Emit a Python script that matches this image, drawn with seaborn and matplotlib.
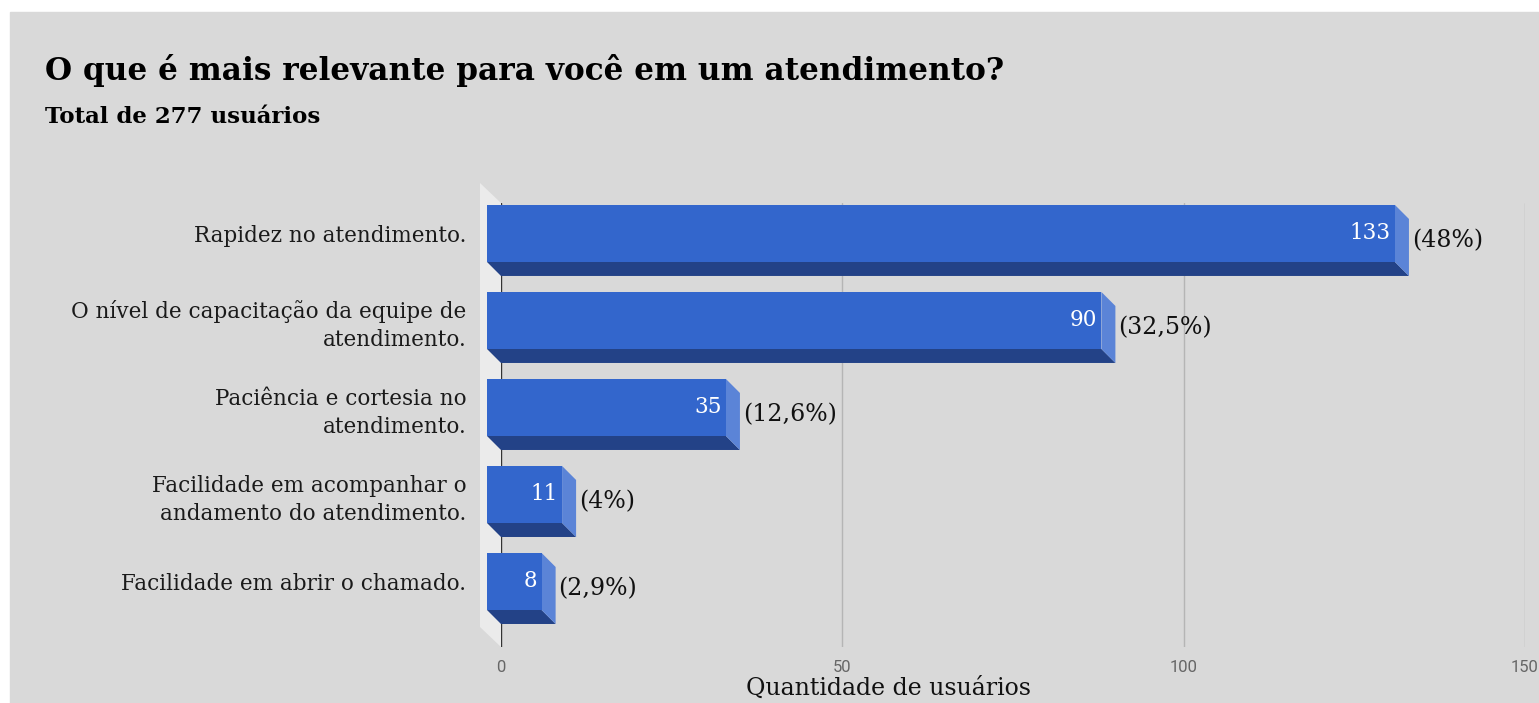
import pandas as pd
import seaborn as sns
import matplotlib.pyplot as plt
from matplotlib.patches import Polygon, Rectangle
from matplotlib.transforms import Affine2D

# Dados do gráfico
categorias = ["Rapidez no atendimento.",
              "O nível de capacitação da equipe de\natendimento.",
              "Paciência e cortesia no\natendimento.",
              "Facilidade em acompanhar o\nandamento do atendimento.",
              "Facilidade em abrir o chamado."]
usuarios = [133, 90, 35, 11, 8]
percentuais = ["(48%)", "(32,5%)", "(12,6%)", "(4%)", "(2,9%)"]
ticks_x = [0, 50, 100, 150]

data = pd.DataFrame({"categoria": categorias, "usuarios": usuarios})

sns.set_style("white")
plt.rcParams['font.family'] = ['DejaVu Serif']

W, H = 1539, 703
fig = plt.figure(figsize=(W / 100, H / 100), dpi=100, facecolor="white")
# fundo cinza do gráfico (com borda branca em cima e à esquerda)
fig.patches.append(Rectangle((10 / W, 0), 1, (H - 12) / H, transform=fig.transFigure,
                             color="#d9d9d9", zorder=-10))

ax = fig.add_axes([501 / W, 56 / H, 1024 / W, 444 / H])
ax.set_facecolor("none")

largura = 57 / 87
sns.barplot(data=data, x="usuarios", y="categoria", orient="h", width=largura,
            color="#3366cc", saturation=1, ax=ax, zorder=5)
barras = list(ax.patches)

ylim = (4.592, -0.511)
ax.set_xlim(0, 150)
ax.set_ylim(*ylim)

# profundidade do efeito 3D (em pixels convertidos para unidades de dados)
px_x = 150 / 1024
px_y = (ylim[0] - ylim[1]) / 444
DX, DY = 14 * px_x, 14 * px_y
DXw, DYw = 21 * px_x, 20 * px_y

# parede do fundo
ax.add_patch(Polygon([(-DXw, ylim[1] - DYw), (0, ylim[1]), (0, ylim[0]), (-DXw, ylim[0] - DYw)],
                     closed=True, color="#ebebeb", clip_on=False, zorder=0, lw=0))
ax.axvline(0, color="#333333", lw=1, zorder=1)

# faces frontais deslocadas + faces inferior e lateral
for i, p in enumerate(barras):
    v = p.get_width()
    c = p.get_y() + p.get_height() / 2
    h = p.get_height()
    p.set_transform(Affine2D().translate(-DX, -DY) + ax.transData)
    p.set_clip_on(False)
    p.set_linewidth(0)
    baixo = c + h / 2
    ax.add_patch(Polygon([(-DX, baixo - DY), (v - DX, baixo - DY), (v, baixo), (0, baixo)],
                         closed=True, color="#234287", lw=0, clip_on=False, zorder=4))
    ax.add_patch(Polygon([(v - DX, c - h / 2 - DY), (v, c - h / 2), (v, baixo), (v - DX, baixo - DY)],
                         closed=True, color="#5b84d7", lw=0, clip_on=False, zorder=4))
    ax.annotate(str(usuarios[i]), (v - DX, c - DY), xytext=(-4, 0), textcoords="offset pixels",
                ha="right", va="center", color="white", fontsize=15.5, zorder=6)
    ax.annotate(percentuais[i], (v, c - DY / 2), xytext=(3, 0), textcoords="offset pixels",
                ha="left", va="center", color="#111111", fontsize=17, zorder=6)

# grade vertical
for t in ticks_x[1:]:
    ax.axvline(t, color="#b5b5b5", lw=1, zorder=0.5)

ax.set_xticks(ticks_x)
ax.set_xticklabels([str(t) for t in ticks_x], family="Roboto", color="#666666", fontsize=12)
ax.tick_params(axis="x", length=0, pad=9)
ax.set_yticks([i - DY for i in range(len(categorias))])
ax.set_yticklabels(categorias, fontsize=15.5, color="#1a1a1a", linespacing=1.35)
ax.tick_params(axis="y", length=0, pad=25)
ax.set_xlabel("")
ax.set_ylabel("")
for s in ax.spines.values():
    s.set_visible(False)

# títulos
fig.text(45 / W, 1 - 80 / H, "O que é mais relevante para você em um atendimento?",
         fontsize=22.4, fontweight="bold", va="baseline", ha="left", color="black")
fig.text(45 / W, 1 - 123 / H, "Total de 277 usuários",
         fontsize=16.5, fontweight="bold", va="baseline", ha="left", color="black")
fig.text(889 / W, 1 - 695 / H, "Quantidade de usuários",
         fontsize=17, va="baseline", ha="center", color="#111111")

plt.savefig("out.png", dpi=100, facecolor="white")
